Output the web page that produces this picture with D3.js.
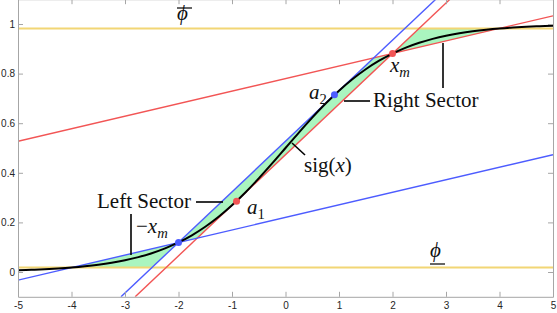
<!DOCTYPE html>
<html>
<head>
<meta charset="utf-8">
<script src="https://cdn.jsdelivr.net/npm/d3@7"></script>
<style>
  body { margin: 0; background: #fff; }
  svg { display: block; }
  .tick text { font-family: "Liberation Sans", Arial, sans-serif; font-size: 10px; fill: #262626; }
  .axis path, .axis line { stroke: #a6a6a6; }
  .lbl { font-family: "Liberation Serif", "DejaVu Serif", serif; fill: #111; }
</style>
</head>
<body>
<div id="chart"></div>
<script>
// sigmoid curve
const curveX = [-5, -4.75, -4.5, -4.25, -4, -3.75, -3.5, -3.25, -3, -2.75, -2.5, -2.25, -2, -1.75, -1.5, -1.25, -1, -0.75, -0.5, -0.25,
  0, 0.25, 0.5, 0.75, 1, 1.25, 1.5, 1.75, 2, 2.25, 2.5, 2.75, 3, 3.25, 3.5, 3.75, 4, 4.25, 4.5, 4.75, 5];
const curveY = [0.0067, 0.0086, 0.011, 0.0141, 0.018, 0.023, 0.0293, 0.0373, 0.0474, 0.0601, 0.0759, 0.0954, 0.1192, 0.1481, 0.1824, 0.2227, 0.2689, 0.3208, 0.3775, 0.4378,
  0.5, 0.5622, 0.6225, 0.6792, 0.7311, 0.7773, 0.8176, 0.852, 0.8808, 0.9047, 0.9241, 0.9399, 0.9526, 0.9627, 0.9707, 0.977, 0.982, 0.9859, 0.989, 0.9914, 0.9933];

const phiLow = 0.018;
const phiHigh = 0.982;

// bounding lines, end points [x, y]
const redChord = [[-5, 0.527], [5, 1.033]];
const blueChord = [[-5, -0.033], [5, 0.473]];
const redSteep = [[-2.81, -0.1], [3.075, 1.1]];
const blueSteep = [[-3.075, -0.1], [2.81, 1.1]];

// shaded sectors
const leftSector = [[-4, 0.018], [-2, 0.119], [-2.496, 0.018]];
const midSector = [[-2, 0.119], [1.653, 0.8635], [2, 0.881], [-1.653, 0.1365]];
const rightSector = [[2, 0.881], [4, 0.982], [2.496, 0.982]];

// marked points
const redPoints = [[2, 0.881], [-0.915, 0.2855]];
const bluePoints = [[-2, 0.119], [0.915, 0.7145]];

const xTicks = [-5, -4, -3, -2, -1, 0, 1, 2, 3, 4, 5];
const yTicks = [0, 0.2, 0.4, 0.6, 0.8, 1];

const width = 557, height = 313;
const x = d3.scaleLinear().domain([-5, 5]).range([18, 553]);
const y = d3.scaleLinear().domain([-0.1, 1.1]).range([296.8, -0.8]);

const svg = d3.select('#chart').append('svg')
  .attr('width', width)
  .attr('height', height);

svg.append('defs').append('clipPath').attr('id', 'plot')
  .append('rect')
  .attr('x', x(-5)).attr('y', y(1.1))
  .attr('width', x(5) - x(-5)).attr('height', y(-0.1) - y(1.1));

const plot = svg.append('g').attr('clip-path', 'url(#plot)');
const line = d3.line().x(d => x(d[0])).y(d => y(d[1]));

// green sectors
[leftSector, midSector, rightSector].forEach(poly => {
  plot.append('path')
    .attr('d', line(poly) + 'Z')
    .attr('fill', '#aaf5bf')
    .attr('stroke', 'none');
});

// phi levels
[phiHigh, phiLow].forEach(v => {
  plot.append('line')
    .attr('x1', x(-5)).attr('x2', x(5))
    .attr('y1', y(v)).attr('y2', y(v))
    .attr('stroke', '#f2d675')
    .attr('stroke-width', 2);
});

// bounding lines
[[redChord, '#f25555'], [redSteep, '#f25555'], [blueChord, '#4d5cff'], [blueSteep, '#4d5cff']].forEach(([pts, col]) => {
  plot.append('path')
    .attr('d', line(pts))
    .attr('fill', 'none')
    .attr('stroke', col)
    .attr('stroke-width', 1.4);
});

// sigmoid
plot.append('path')
  .datum(curveX.map((v, i) => [v, curveY[i]]))
  .attr('d', d3.line().curve(d3.curveCatmullRom).x(d => x(d[0])).y(d => y(d[1])))
  .attr('fill', 'none')
  .attr('stroke', '#000')
  .attr('stroke-width', 2);

plot.selectAll('circle.red').data(redPoints).enter().append('circle')
  .attr('cx', d => x(d[0])).attr('cy', d => y(d[1])).attr('r', 3.5)
  .attr('fill', '#f25555');
plot.selectAll('circle.blue').data(bluePoints).enter().append('circle')
  .attr('cx', d => x(d[0])).attr('cy', d => y(d[1])).attr('r', 3.5)
  .attr('fill', '#4d5cff');

// axes
const fmt = d => String(d);
svg.append('g').attr('class', 'axis')
  .attr('transform', `translate(0,${y(-0.1)})`)
  .call(d3.axisBottom(x).tickValues(xTicks).tickFormat(fmt).tickSizeInner(-5).tickSizeOuter(0).tickPadding(5));
svg.append('g').attr('class', 'axis')
  .attr('transform', `translate(0,${y(1.1)})`)
  .call(d3.axisTop(x).tickValues(xTicks).tickFormat('').tickSizeInner(-5).tickSizeOuter(0));
svg.append('g').attr('class', 'axis')
  .attr('transform', `translate(${x(-5)},0)`)
  .call(d3.axisLeft(y).tickValues(yTicks).tickFormat(fmt).tickSizeInner(-5).tickSizeOuter(0).tickPadding(3));
svg.append('g').attr('class', 'axis')
  .attr('transform', `translate(${x(5)},0)`)
  .call(d3.axisRight(y).tickValues(yTicks).tickFormat('').tickSizeInner(-5).tickSizeOuter(0));

// callouts
const callouts = [
  [[196, 202], [223, 202]],
  [[131, 214], [131, 255]],
  [[344, 101], [370, 101]],
  [[443, 43], [443, 88]],
  [[292, 143], [305, 155]]
];
callouts.forEach(c => {
  svg.append('line')
    .attr('x1', c[0][0]).attr('y1', c[0][1])
    .attr('x2', c[1][0]).attr('y2', c[1][1])
    .attr('stroke', '#000').attr('stroke-width', 1.6);
});

// labels
function label(px, py, parts, size) {
  const t = svg.append('text').attr('class', 'lbl')
    .attr('x', px).attr('y', py).attr('font-size', size);
  parts.forEach(p => {
    const s = t.append('tspan').text(p.t);
    if (p.i) s.attr('font-style', 'italic');
    if (p.sub) s.attr('font-size', size * 0.7).attr('dy', 5);
  });
  return t;
}
label(97, 208, [{ t: 'Left Sector' }], 21);
label(373, 107, [{ t: 'Right Sector' }], 21);
label(304, 172, [{ t: 'sig(' }, { t: 'x', i: true }, { t: ')' }], 21);
label(136, 233, [{ t: '\u2212' }, { t: 'x', i: true }, { t: 'm', i: true, sub: true }], 21);
label(390, 72, [{ t: 'x', i: true }, { t: 'm', i: true, sub: true }], 21);
label(247, 214, [{ t: 'a', i: true }, { t: '1', sub: true }], 21);
label(309, 99, [{ t: 'a', i: true }, { t: '2', sub: true }], 21);
label(177, 20, [{ t: '\u03d5', i: true }], 21);
label(430, 257, [{ t: '\u03d5', i: true }], 21);
svg.append('line').attr('x1', 177).attr('x2', 192).attr('y1', 8).attr('y2', 8)
  .attr('stroke', '#000').attr('stroke-width', 1.2);
svg.append('line').attr('x1', 430).attr('x2', 445).attr('y1', 264).attr('y2', 264)
  .attr('stroke', '#000').attr('stroke-width', 1.2);
</script>
</body>
</html>
